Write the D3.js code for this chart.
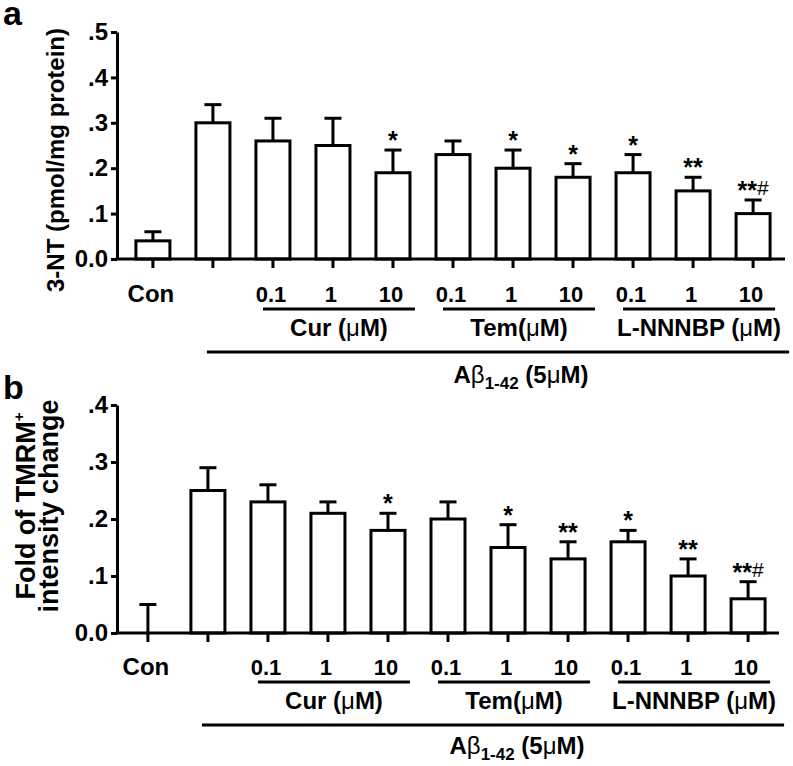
<!DOCTYPE html>
<html><head><meta charset="utf-8">
<script src="https://cdn.jsdelivr.net/npm/d3@7/dist/d3.min.js"></script>
<style>
html,body{margin:0;padding:0;background:#fff;}
svg text{font-family:"Liberation Sans",Arial,sans-serif;font-weight:bold;fill:#000;}
</style>
</head><body>
<svg id="chart" width="793" height="766"></svg>
<script>
// ---- data ----
const categories = ["Con","Abeta","Cur 0.1","Cur 1","Cur 10","Tem 0.1","Tem 1","Tem 10","LN 0.1","LN 1","LN 10"];
const tickLabels = ["Con","","0.1","1","10","0.1","1","10","0.1","1","10"];
const groupLabels = ["Cur (μM)","Tem(μM)","L-NNNBP (μM)"];
const groupStart = [2,5,8];
const groupEnd = [4,7,10];

const valuesA = [0.04,0.30,0.26,0.25,0.19,0.23,0.20,0.18,0.19,0.15,0.10];
const errorsA = [0.02,0.04,0.05,0.06,0.05,0.03,0.04,0.03,0.04,0.03,0.03];
const sigA    = ["","","","","*","","*","*","*","**","**#"];
const yTicksA = [0,0.1,0.2,0.3,0.4,0.5];

const valuesB = [0.00,0.25,0.23,0.21,0.18,0.20,0.15,0.13,0.16,0.10,0.06];
const errorsB = [0.05,0.04,0.03,0.02,0.03,0.03,0.04,0.03,0.02,0.03,0.03];
const sigB    = ["","","","","*","","*","**","*","**","**#"];
const yTicksB = [0,0.1,0.2,0.3,0.4];

const svg = d3.select("#chart");
const SW = 3;

function fmt(v){ return v===0 ? "0.0" : d3.format(".1f")(v).replace(/^0/,""); }

function drawPanel(p){
  const g = svg.append("g");
  const x = d3.scaleBand().domain(categories).range(p.xRange).paddingInner(23/60).paddingOuter(0.19);
  const y = d3.scaleLinear().domain(p.yDomain).range([p.y0, p.yTop]);
  const cx = c => x(c) + x.bandwidth()/2;

  // panel letter
  g.append("text").attr("x",3).attr("y",p.letterY).attr("font-size",34).text(p.letter);

  // y axis
  const ya = g.append("g").attr("transform",`translate(${p.axisX},0)`)
    .call(d3.axisLeft(y).tickValues(p.yTicks).tickFormat(fmt).tickSize(6).tickSizeOuter(0));
  ya.select(".domain").attr("stroke","#000").attr("stroke-width",SW);
  ya.selectAll(".tick line").attr("stroke","#000").attr("stroke-width",SW);
  ya.selectAll(".tick text").attr("font-size",24).attr("x",-9)
    .style("font-family","'Liberation Sans',Arial,sans-serif").style("font-weight","bold");

  // bars
  const data = categories.map((c,i)=>({c, v:p.values[i], e:p.errors[i], s:p.sig[i]}));
  g.selectAll(".err").data(data).enter().append("line")
    .attr("x1",d=>cx(d.c)).attr("x2",d=>cx(d.c))
    .attr("y1",d=>y(d.v)).attr("y2",d=>y(d.v+d.e))
    .attr("stroke","#000").attr("stroke-width",SW);
  g.selectAll(".cap").data(data).enter().append("line")
    .attr("x1",d=>cx(d.c)-8.5).attr("x2",d=>cx(d.c)+8.5)
    .attr("y1",d=>y(d.v+d.e)).attr("y2",d=>y(d.v+d.e))
    .attr("stroke","#000").attr("stroke-width",SW);
  g.selectAll(".bar").data(data).enter().append("rect")
    .attr("x",d=>x(d.c)+SW/2).attr("width",x.bandwidth()-SW)
    .attr("y",d=>y(d.v)).attr("height",d=>y(0)-y(d.v))
    .attr("fill","#fff").attr("stroke","#000").attr("stroke-width",SW);

  // significance marks
  data.forEach(d=>{
    if(!d.s) return;
    const t = g.append("text").attr("x",cx(d.c)).attr("y",y(d.v+d.e)-8)
      .attr("text-anchor","middle");
    let shifted = false;
    d.s.split("").forEach(ch=>{
      if(ch==="*"){
        const ts = t.append("tspan").attr("font-size",25).style("font-weight","bold").text("*");
        if(!shifted){ ts.attr("dy",7); shifted = true; }
      } else {
        t.append("tspan").attr("font-size",21).style("font-weight","normal").attr("dy",-4).text(ch);
      }
    });
  });

  // x axis
  g.append("line").attr("x1",p.axisX-1.5).attr("x2",p.xAxisEnd).attr("y1",y(0)).attr("y2",y(0))
    .attr("stroke","#000").attr("stroke-width",SW);
  const xa = g.append("g").attr("transform",`translate(0,${y(0)})`)
    .call(d3.axisBottom(x).tickSize(9).tickFormat(""));
  xa.select(".domain").remove();
  xa.selectAll(".tick line").attr("stroke","#000").attr("stroke-width",SW);

  // tick labels
  g.selectAll(".xl").data(categories).enter().append("text")
    .attr("x",(c)=>cx(c)-2).attr("y",p.labelY)
    .attr("text-anchor","middle").attr("font-size",(c,i)=>i===0?24:22)
    .text((c,i)=>tickLabels[i]);

  // group lines
  groupLabels.forEach((lab,k)=>{
    const x1 = cx(categories[groupStart[k]]) - 10;
    const x2 = cx(categories[groupEnd[k]]) + 22;
    g.append("line").attr("x1",x1).attr("x2",x2).attr("y1",p.groupLineY).attr("y2",p.groupLineY)
      .attr("stroke","#000").attr("stroke-width",SW);
    const t = g.append("text").attr("x",(x1+x2)/2).attr("y",p.groupTextY)
      .attr("text-anchor","middle").attr("font-size",24);
    const parts = lab.split("μ");
    t.append("tspan").text(parts[0]);
    t.append("tspan").style("font-weight","normal").text("μ");
    t.append("tspan").text(parts[1]);
  });

  // Abeta line
  const ax1 = cx(categories[1]) - 6, ax2 = cx(categories[10]) + 36;
  g.append("line").attr("x1",ax1).attr("x2",ax2).attr("y1",p.abLineY).attr("y2",p.abLineY)
    .attr("stroke","#000").attr("stroke-width",SW);
  const at = g.append("text").attr("x",p.abTextX).attr("y",p.abTextY)
    .attr("text-anchor","middle").attr("font-size",24);
  at.append("tspan").text("A");
  at.append("tspan").style("font-weight","normal").text("β");
  at.append("tspan").attr("font-size",17).attr("dy",6).text("1-42");
  at.append("tspan").attr("dy",-6).text(" (5");
  at.append("tspan").style("font-weight","normal").text("μ");
  at.append("tspan").text("M)");

  // y label (one text per line)
  p.yLabLines.forEach(ln=>{
    const yl = g.append("text").attr("transform",`translate(${ln.x},${p.yLabY}) rotate(-90)`)
      .attr("text-anchor","middle").attr("font-size",p.yLabSize);
    yl.append("tspan").text(ln.text);
    if(ln.sup) yl.append("tspan").attr("font-size",15).attr("dy",-11).text(ln.sup);
  });
}

drawPanel({letter:"a", letterY:25, xRange:[123,783], yDomain:[0,0.5], y0:259, yTop:32,
  yTicks:yTicksA, values:valuesA, errors:errorsA, sig:sigA, axisX:117, xAxisEnd:785,
  labelY:302, groupLineY:309, groupTextY:336, abLineY:352, abTextX:521, abTextY:383,
  yLabY:160, yLabSize:24, yLabLines:[{text:"3-NT (pmol/mg protein)", x:64}]});

drawPanel({letter:"b", letterY:399, xRange:[118,778], yDomain:[0,0.4], y0:633, yTop:405,
  yTicks:yTicksB, values:valuesB, errors:errorsB, sig:sigB, axisX:117, xAxisEnd:779,
  labelY:675, groupLineY:682, groupTextY:709, abLineY:725, abTextX:517, abTextY:754,
  yLabY:506, yLabSize:27,
  yLabLines:[{text:"Fold of TMRM",sup:"+", x:35},{text:"intensity change", x:58}]});
</script>
</body></html>
